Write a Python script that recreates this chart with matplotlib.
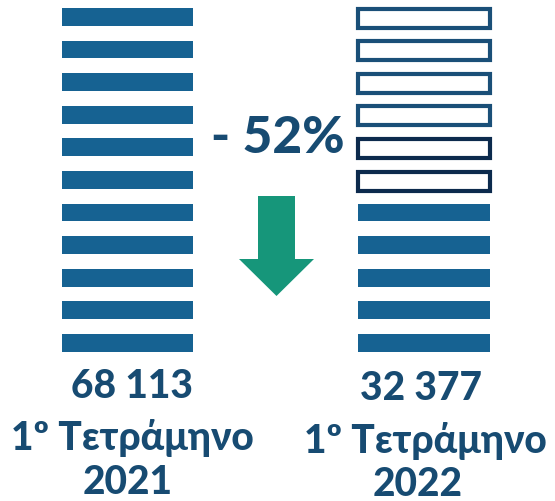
import matplotlib
matplotlib.use("Agg")
import matplotlib.pyplot as plt

# ---- data ----
years = ["2021", "2022"]
values = [68113, 32377]
period_label = "1º Τετράμηνο"
filled_bars = [11, 5]          # solid bars per column
outline_light = [0, 4]         # empty (lost) bars, light outline
outline_dark = [0, 2]          # empty (lost) bars, dark outline

# ---- style ----
C_FILL = "#166292"
C_LIGHT = "#1A4F78"
C_DARK = "#0C2A4D"
C_TEXT = "#174B72"
C_ARROW = "#16967A"
FONT = ["Lato", "DejaVu Sans"]
WEIGHT = 900

W, H = 555, 502
fig = plt.figure(figsize=(W / 100, H / 100), dpi=100)
ax = fig.add_axes([0, 0, 1, 1])
ax.set_axis_off()

# layout (pixel geometry -> data units)
cx0, pitch_x = 127.5, 296.5      # centre of first column, distance between columns (px)
row_top, pitch_y, bar_h_px = 9.0, 32.6, 17.7
bar_w_px = 131.5
y0 = row_top + bar_h_px / 2

ax.set_xlim(-cx0 / pitch_x, (W - cx0) / pitch_x)
ax.set_ylim((H - y0) / pitch_y, -y0 / pitch_y)

def px(x, y):
    return (x - cx0) / pitch_x, (y - y0) / pitch_y

bw = bar_w_px / pitch_x
bh = bar_h_px / pitch_y

for i in range(len(years)):
    states = (["light"] * outline_light[i] + ["dark"] * outline_dark[i]
              + ["fill"] * filled_bars[i])
    for r, s in enumerate(states):
        if s == "fill":
            ax.barh(r, bw, left=i - bw / 2, height=bh, color=C_FILL, linewidth=0)
        else:
            ec = C_LIGHT if s == "light" else C_DARK
            ax.barh(r + 0.04, bw, left=i - bw / 2, height=bh + 0.04,
                    facecolor="white", edgecolor=ec, linewidth=3.0)

# percentage change
pct = round((values[1] - values[0]) / values[0] * 100)
mx, _ = px(277.5, 0)
_, ty = px(0, 138)
ax.text(mx, ty, f"- {abs(pct)}%", ha="center", va="center", fontsize=37,
        fontweight=WEIGHT, color=C_TEXT, family=FONT)

# down arrow
acx = 276.5
pts = [(acx - 18.5, 197), (acx + 18.5, 197), (acx + 18.5, 260), (acx + 37.5, 260),
       (acx, 297), (acx - 37.5, 260), (acx - 18.5, 260)]
xs, ys = zip(*[px(x, y) for x, y in pts])
ax.fill(xs, ys, color=C_ARROW, linewidth=0)

# labels
def fmt(v):
    return f"{v:,}".replace(",", " ")

label_y = [(386, 438, 482), (389, 441, 485)]
label_dx = [(4.5, 4.5, 0.5), (-3, 1, -6)]
for i in range(len(years)):
    lines = [fmt(values[i]), period_label, years[i]]
    for k, t in enumerate(lines):
        _, yy = px(0, label_y[i][k])
        ax.text(i + label_dx[i][k] / pitch_x, yy, t, ha="center", va="center",
                fontsize=28, fontweight=WEIGHT, color=C_TEXT, family=FONT)

fig.savefig("out.png", dpi=100, facecolor="white")
